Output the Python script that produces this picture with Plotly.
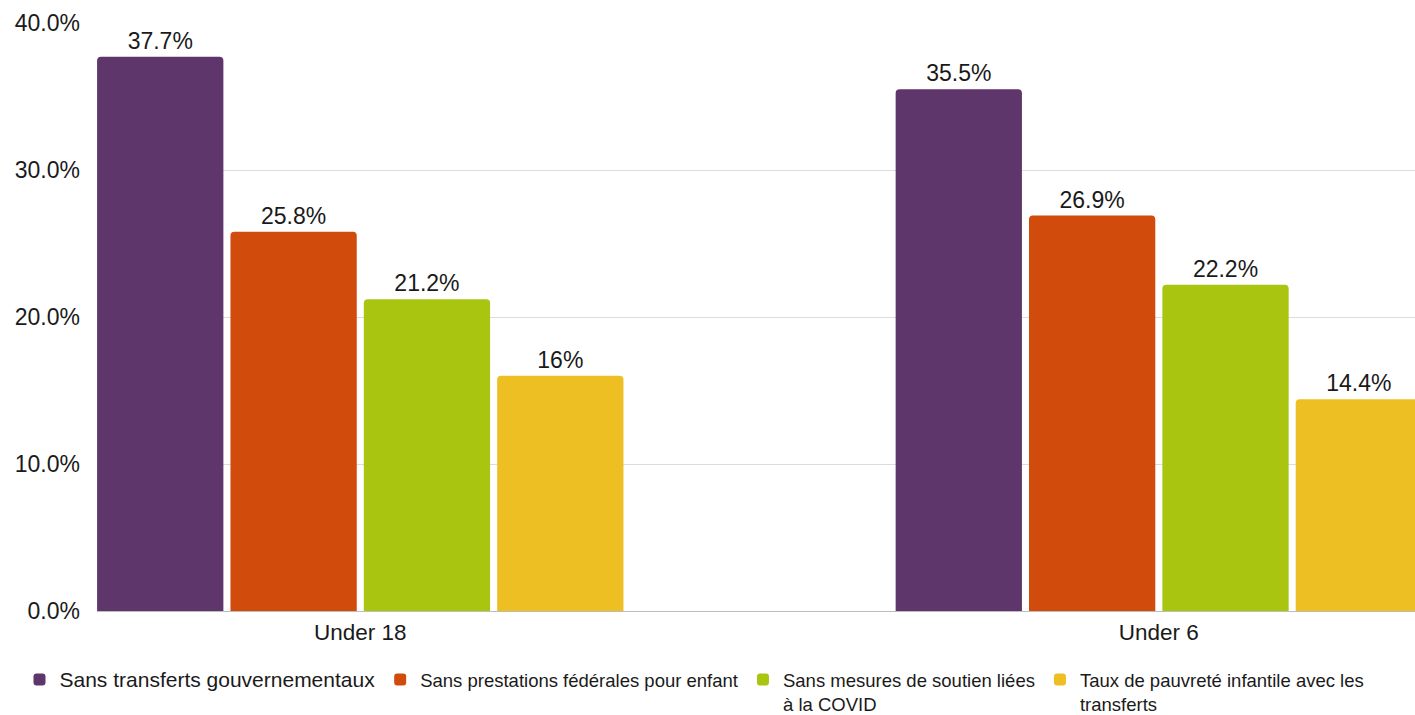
import plotly.graph_objects as go

categories = ["Under 18", "Under 6"]
series_names = [
    "Sans transferts gouvernementaux",
    "Sans prestations fédérales pour enfant",
    "Sans mesures de soutien liées<br>à la COVID",
    "Taux de pauvreté infantile avec les<br>transferts",
]
series_values = [
    [37.7, 35.5],
    [25.8, 26.9],
    [21.2, 22.2],
    [16, 14.4],
]
colors = ["#5F366B", "#D04B0C", "#A9C50F", "#EDBF22"]
y_ticks = [0, 10, 20, 30, 40]
y_tick_labels = ["0.0%", "10.0%", "20.0%", "30.0%", "40.0%"]

fig = go.Figure()
for i, (name, vals, col) in enumerate(zip(series_names, series_values, colors)):
    legend_name = name
    if i == 0:
        legend_name = '<span style="font-size:21px">' + name + '</span>'
    fig.add_trace(go.Bar(
        x=categories, y=vals, name=legend_name,
        marker=dict(color=col, line=dict(width=0)),
        text=[f"{v:g}%" for v in vals],
        texttemplate="%{text}", textposition="outside",
        textfont=dict(size=23, color="#1a1a1a"),
        cliponaxis=False,
    ))

fig.update_layout(
    width=1415, height=715,
    margin=dict(l=97, r=0, t=23, b=104, autoexpand=False),
    barmode="group", bargap=0.332, bargroupgap=0.053,
    barcornerradius=4,
    plot_bgcolor="white", paper_bgcolor="white",
    font=dict(family="Liberation Sans, Arial, sans-serif", color="#1a1a1a"),
    showlegend=True,
    legend=dict(
        orientation="h",
        x=-0.0588, y=-0.085, xanchor="left", yanchor="top",
        font=dict(size=18.5, color="#1a1a1a"),
        traceorder="normal", itemclick=False, valign="top",
    ),
    xaxis=dict(
        type="category", range=[-0.3297, 1.3208],
        showline=True, linecolor="#bdbdbd", linewidth=1,
        showgrid=False, ticks="", tickfont=dict(size=22.5),
        ticklabelstandoff=1,
    ),
    yaxis=dict(
        range=[0, 40], tickmode="array", tickvals=y_ticks, ticktext=y_tick_labels,
        showgrid=True, gridcolor="#dcdcdc", gridwidth=1,
        zeroline=False, showline=False, tickfont=dict(size=23),
        ticklabelstandoff=16,
    ),
)

fig.write_html("out.html")
